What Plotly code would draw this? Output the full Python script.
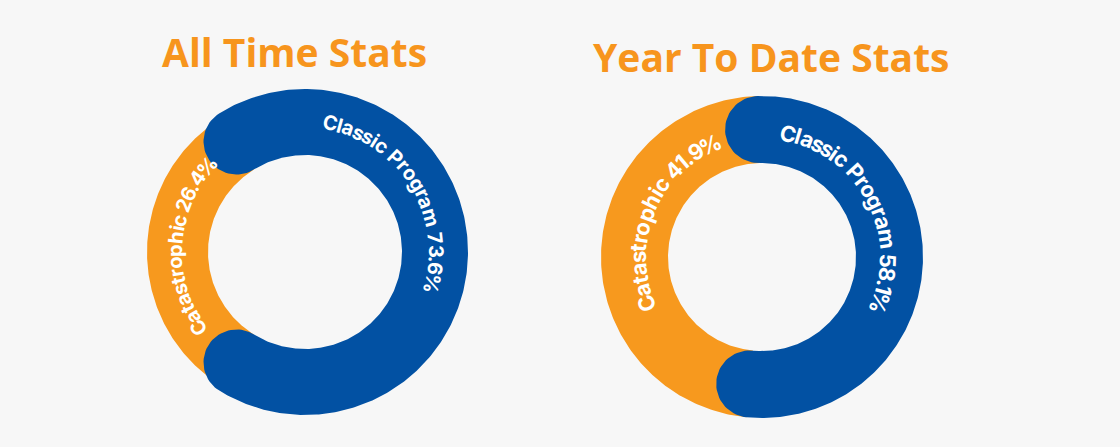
import numpy as np
import plotly.graph_objects as go

# ---------------- data ----------------
chart_titles = ["All Time Stats", "Year To Date Stats"]
categories = ["Classic Program", "Catastrophic"]
all_time_pct = [73.6, 26.4]
ytd_pct = [58.1, 41.9]
series = [all_time_pct, ytd_pct]

# ---------------- style / layout ----------------
W, H = 1120, 447
BG = "#f7f7f7"
BLUE = "#0251a3"
ORANGE = "#f7991e"
TITLE_C = "#f7951d"

donuts = [
    dict(cx=305, cy=252, ro_blue=163, ro_orange=158, ri=97, center_ang=90,
         title_xy=(294, 51), lab_font=20,
         spans=[(11, 104, 131), (234.5, 311, 130)]),
    dict(cx=762, cy=257, ro_blue=161, ro_orange=161, ri=94, center_ang=92,
         title_xy=(771, 56), lab_font=22,
         spans=[(12, 111, 126), (248, 335, 124)]),
]

# approximate advance widths (em) used to space the curved label letters
CW = {"C": .72, "l": .30, "a": .61, "s": .52, "i": .29, "c": .59, " ": .27,
      "P": .70, "r": .41, "o": .64, "g": .67, "m": 1.0, "t": .41, "p": .68,
      "h": .69, ".": .27, "%": .86, "0": .68, "1": .37, "2": .61, "3": .63,
      "4": .70, "5": .63, "6": .66, "7": .63, "8": .67, "9": .66}


def pt(cx, cy, r, th):
    t = np.radians(th)
    return cx + r * np.sin(t), cy - r * np.cos(t)


fig = go.Figure()
annotations = []

for d, vals, title in zip(donuts, series, chart_titles):
    cx, cy, ri = d["cx"], d["cy"], d["ri"]
    ro = d["ro_blue"]
    h = (ro - ri) / 2
    rm = (ro + ri) / 2
    alpha = np.degrees(np.arctan(h / rm))
    trim = 0.75 * alpha
    A = vals[0] / 100 * 360
    ths = d["center_ang"] - A / 2 + trim
    the = d["center_ang"] + A / 2 - trim

    # orange segment (behind), from blue end around to blue start
    ang = np.linspace(the, ths + 360, 200)
    xo, yo = pt(cx, cy, d["ro_orange"], ang)
    xi, yi = pt(cx, cy, ri, ang[::-1])
    fig.add_trace(go.Scatter(x=np.r_[xo, xi, xo[0]], y=np.r_[yo, yi, yo[0]],
                             fill="toself", fillcolor=ORANGE, mode="lines",
                             line=dict(width=0, color=ORANGE), hoverinfo="skip",
                             showlegend=False))

    # blue segment with rounded ends
    ang = np.linspace(ths, the, 300)
    xo, yo = pt(cx, cy, ro, ang)
    phi = np.linspace(0, np.pi, 40)
    te = np.radians(the)
    u = np.array([np.sin(te), -np.cos(te)])
    t = np.array([np.cos(te), np.sin(te)])
    ce = np.array(pt(cx, cy, rm, the))
    cap_e = ce[:, None] + h * (np.outer(u, np.cos(phi)) + np.outer(t, np.sin(phi)))
    xi, yi = pt(cx, cy, ri, ang[::-1])
    ts = np.radians(ths)
    u2 = np.array([np.sin(ts), -np.cos(ts)])
    t2 = np.array([np.cos(ts), np.sin(ts)])
    cs = np.array(pt(cx, cy, rm, ths))
    cap_s = cs[:, None] + h * (-np.outer(u2, np.cos(phi)) - np.outer(t2, np.sin(phi)))
    bx = np.r_[xo, cap_e[0], xi, cap_s[0]]
    by = np.r_[yo, cap_e[1], yi, cap_s[1]]
    fig.add_trace(go.Scatter(x=bx, y=by, fill="toself", fillcolor=BLUE,
                             mode="lines", line=dict(width=0, color=BLUE),
                             hoverinfo="skip", showlegend=False))

    # title
    annotations.append(dict(x=d["title_xy"][0], y=d["title_xy"][1], xref="x", yref="y",
                            text=title, showarrow=False, xanchor="center", yanchor="middle",
                            font=dict(family="Open Sans", size=39, color=TITLE_C, weight=700)))

    # curved labels
    for cat, v, (a0, a1, rr) in zip(categories, vals, d["spans"]):
        label = f"{cat} {v}%"
        w = np.array([CW.get(c, .6) for c in label])
        centers = np.cumsum(w) - w / 2
        frac = (centers - centers[0]) / (centers[-1] - centers[0])
        for ch, f in zip(label, frac):
            if ch == " ":
                continue
            th = a0 + f * (a1 - a0)
            x, y = pt(cx, cy, rr, th)
            ta = ((th + 180) % 360) - 180
            annotations.append(dict(x=x, y=y, xref="x", yref="y", text=ch,
                                    showarrow=False, xanchor="center", yanchor="middle",
                                    textangle=ta,
                                    font=dict(family="Inter", size=d["lab_font"],
                                              color="white", weight=700)))

fig.update_layout(
    width=W, height=H, margin=dict(l=0, r=0, t=0, b=0),
    paper_bgcolor=BG, plot_bgcolor=BG,
    xaxis=dict(range=[0, W], visible=False, fixedrange=True),
    yaxis=dict(range=[H, 0], visible=False, fixedrange=True),
    annotations=annotations, showlegend=False,
)
fig.write_html("out.html", config={"displayModeBar": False},
               post_script="document.body.style.margin='0';document.body.style.background='%s';" % BG)
